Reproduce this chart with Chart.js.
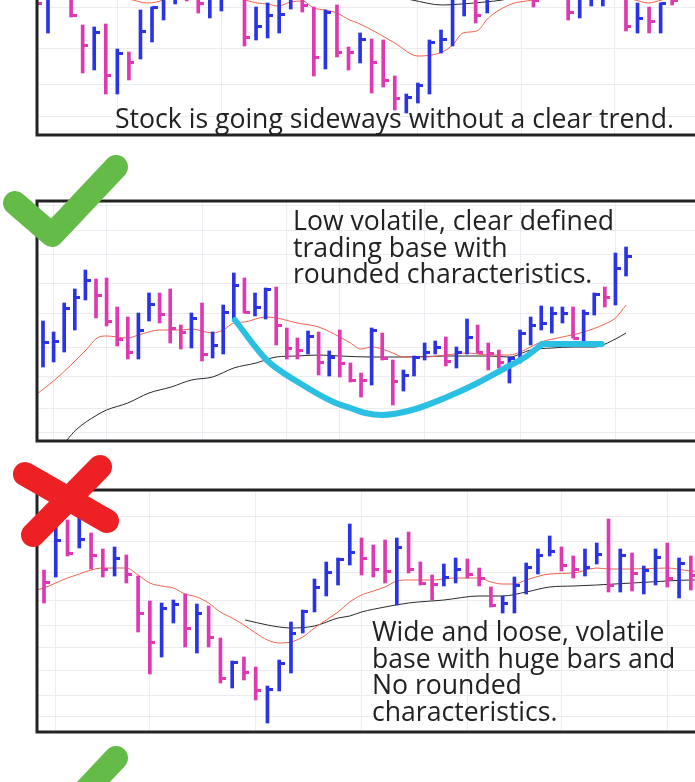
<!DOCTYPE html>
<html><head><meta charset="utf-8">
<script src="https://cdn.jsdelivr.net/npm/chart.js@4.4.1/dist/chart.umd.min.js"></script>
<style>
html,body{margin:0;padding:0;background:#fff;width:695px;height:782px;overflow:hidden;position:relative;}
canvas{position:absolute;left:0;}
.note{position:absolute;font-family:'Open Sans',sans-serif;font-size:26.6px;line-height:26.6px;color:#222;white-space:nowrap;z-index:3;}
svg{position:absolute;left:0;top:0;z-index:4;}
</style></head><body>
<canvas id="c1" width="720" height="260" style="top:-115px"></canvas>
<canvas id="c2" width="720" height="260" style="top:191px"></canvas>
<canvas id="c3" width="720" height="262" style="top:480px"></canvas>
<div class="note" style="left:115px;top:105.2px">Stock is going sideways without a clear trend.</div>
<div class="note" style="left:293px;top:207.2px">Low volatile, clear defined<br>trading base with<br>rounded characteristics.</div>
<div class="note" style="left:372px;top:618px">Wide and loose, volatile<br>base with huge bars and<br>No rounded<br>characteristics.</div>
<svg width="695" height="782">
<g fill="none" stroke-linecap="round" stroke-linejoin="round" stroke-width="24">
<polyline points="15,203 52,235 116,167" stroke="#65bb47"/>
<line x1="25" y1="474" x2="107" y2="521" stroke="#ed2024"/>
<line x1="100" y1="467" x2="33" y2="535" stroke="#ed2024"/>
<polyline points="15,794 52,826 116,758" stroke="#65bb47"/>
</g></svg>
<script>
const UP='#2a33e6', DOWN='#df38b1', RED='#f0604c', BLACK='#2a2a2a', CYAN='#2bbfe3', GRID='#ebebf1';

// ---- Panel 1: sideways ----
const p1Dir=['d','u','d','d','d','u','d','u','d','u','u','u','u','d','d','u','u','d','d','u','u','u','u','d','d','u','d','d','u','d','d','d','u','u','u','u','u','u','d','u','d','u','u','d','u','d','d','u','u','u','d','d','u','d','u','d','u','d'];
const p1High=[165,160,175,160,110,108,111,86,83,125,128,150,160,155,150,155,165,170,140,128,132,137,155,155,128,125,130,88,102,96,95,59,41,52,95,105,145,155,145,155,175,175,180,155,175,175,155,160,165,160,165,140,132,128,132,155,165,165];
const p1Low=[131,102,140,118,62,65,41,41,55,76,93,115,131,134,122,117,124,140,89,95,97,102,126,123,59,66,78,65,72,42,48,25,22,32,41,82,89,119,112,122,140,138,140,128,140,140,115,117,129,129,140,104,102,102,102,130,140,140];
const p1Close=[132,150,155,120,90,103,60,82,73,104,128,145,155,140,132,150,160,145,98,109,120,121,150,130,78,123,83,83,96,73,55,37,38,50,93,96,140,150,120,150,155,165,175,135,165,145,123,155,160,155,145,109,117,114,132,135,155,145];
const p1RedX=[0,3,6,8.35,9.56,10.4,10.95,13,16,18.04,19.1,20,20.9,22,23,24,25,26,27.1,27.8,29.5,31,33,35.1,36,36.9,38.1,39.1,41.1,42.9,45,48,51.8,52.9,54.1,56,58];
const p1RedY=[150,146,140,135,132,133,135,142,142,135,132,131,129,133,134,127,125,122,115,112,102,92,79,83,90,102,104,117,131,135,142,142,135,132,135,140,142];
const p1BlkX=[28,32.5,35.1,36.8,38.8,40.3,44];
const p1BlkY=[145,135,130,131,133,135,145];
const p1GridX=[7,16,33,42,50];
const p1GridY=[128,87,51,19];

// ---- Panel 2: rounded base ----
const p2Dir=['u','u','u','u','u','d','d','d','d','u','u','d','d','d','u','d','u','u','u','d','u','u','d','d','d','u','d','u','d','d','d','u','d','d','u','u','u','u','d','u','u','d','d','d','u','u','u','u','u','u','d','u','u','d','u','u'];
const p2High=[120,109,138,152,171,162,163,134,124,128,148,148,152,116,128,138,109,136,168,163,148,153,154,113,103,110,109,90,111,78,68,113,108,81,71,85,98,100,104,94,122,116,98,91,84,111,124,135,134,134,134,131,148,154,188,194];
const p2Low=[74,79,89,111,141,123,115,95,82,82,120,118,98,92,93,80,83,87,120,128,125,122,96,82,82,87,66,65,64,59,44,56,81,36,50,65,81,87,75,73,87,88,71,73,58,78,96,111,108,118,103,100,126,134,136,165];
const p2Close=[99,100,133,144,161,146,120,102,89,111,137,127,113,109,123,87,96,129,156,129,134,152,116,93,91,105,79,84,78,61,61,111,83,60,66,84,89,94,80,89,104,89,88,79,83,108,116,118,128,128,103,128,147,144,173,185];
const p2RedX=[-0.7,1.1,4.06,5.1,6,8,9,11,13,14,16,17,18,19,21,22,24,26,28,29,30,31,32,33,34,36,38,40,42,44,45,47,49,51,53,54,55];
const p2RedY=[46,61,91,103,105,103,106,111,111,112,108,111,118,119,124,123,118,114,104,98,92,94,92,88,84,84,86,88,86,86,89,99,104,109,117,123,136];
const p2BlkX=[1,2.26,3.1,5.1,6,8,10,12.1,14,16,18,20.1,22,24,26,28,31,34,38,42,44,46,48,50,52,54,55];
const p2BlkY=[-15,1,11,26,31,38,48,54,61,64,73,78,84,85,86,85,84,84,85,85,84,91,93,94,94,102,108];
const p2CupX=[18.1,21.1,24.2,27.4,29,30.4,32,34.8,37.9,41,43.6,45.5,47.1];
const p2CupY=[121,81,58,39,33,28,26,31,43,58,73,84,97];
const p2HandleX=[47.1,52.7];
const p2HandleY=[97,97];
const p2GridX=[1,6,15,23,28,36,45,54];
const p2GridY=[236,211,186,158,128,94,65,33,9];

// ---- Panel 3: wide and loose ----
const p3Dir=['d','d','u','d','u','d','d','u','d','d','d','u','u','d','u','d','d','u','d','d','u','u','u','u','u','u','u','u','d','d','d','u','d','d','d','u','u','d','d','d','u','u','u','u','u','d','d','u','u','d','u','d','u','u','d','u','d'];
const p3High=[167,162,215,212,217,199,183,185,177,156,131,129,132,138,128,126,94,71,75,65,46,72,110,122,153,170,174,208,194,187,192,194,200,170,157,168,174,173,164,145,136,155,169,183,196,185,176,183,189,213,183,179,166,183,189,174,176];
const p3Low=[132,129,155,176,184,163,155,156,149,100,58,75,109,85,79,85,49,44,52,32,9,41,59,99,120,136,147,167,157,155,149,127,159,147,132,146,149,154,146,125,119,119,138,158,176,161,154,156,168,140,140,141,138,147,145,134,142];
const p3Close=[154,150,192,179,193,177,163,174,158,119,90,124,128,104,119,95,54,70,60,42,43,69,99,121,145,160,173,180,174,163,161,185,163,149,148,155,163,158,154,127,129,147,165,177,181,167,163,165,178,147,177,159,162,175,154,169,157];
const p3RedX=[0.3,1,2,3,4,5,6,7,8,9,10,11,12,13,14,15,16,17,18,19,20,21,22,23,24,25,26,27,28,29,30,31,32,34,36,38,39,40,41,42,44,46,48,49,51,54,56,57.5];
const p3RedY=[142,144,149,154,158,162,164,164,164,157,149,146,144,138,135,129,120,114,107,99,92,89,90,95,104,112,120,130,137,141,145,151,152,152,154,154,150,148,148,152,158,159,164,163,163,164,161,160];
const p3BlkX=[18.1,20,21,22,24,26,27,28,30,32,35,38,40,42,44,46,48,51,54,56,57.5];
const p3BlkY=[112,107,105,104,106,114,116,120,125,129,132,136,136,140,145,146,147,149,151,152,152];
const p3GridX=[2,10,19,28,37,45,54];
const p3GridY=[215,190,160,132,107,85,62,37,16];

function tickCanvas(color){
  const c=document.createElement('canvas'); c.width=11; c.height=3;
  const g=c.getContext('2d'); g.fillStyle=color; g.fillRect(5.5,0,5.5,3); return c;
}
const tickUp=tickCanvas(UP), tickDown=tickCanvas(DOWN);
const pts=(xs,ys)=>xs.map((x,i)=>({x:x,y:ys[i]}));

const frame={id:'frame',afterDraw(c){const a=c.chartArea,g=c.ctx;g.save();g.strokeStyle='#232323';g.lineWidth=3;g.strokeRect(a.left,a.top,a.right-a.left,a.bottom-a.top);g.restore();}};

function panel(id,p){
  const idx=p.high.map((_,i)=>i);
  const ds=[];
  if(p.cupX){
    ds.push({type:'line',data:pts(p.cupX,p.cupY),borderColor:CYAN,borderWidth:6,pointRadius:0,cubicInterpolationMode:'monotone',borderCapStyle:'round',order:0});
    ds.push({type:'line',data:pts(p.handleX,p.handleY),borderColor:CYAN,borderWidth:6,pointRadius:0,borderCapStyle:'round',order:0});
  }
  ds.push({type:'line',data:idx.map(i=>({x:i,y:p.close[i]})),showLine:false,pointStyle:p.dir.map(d=>d==='u'?tickUp:tickDown),pointRadius:4,pointBorderWidth:0,order:1});
  ds.push({type:'bar',data:idx.map(i=>({x:i,y:[p.low[i],p.high[i]]})),backgroundColor:p.dir.map(d=>d==='u'?UP:DOWN),barThickness:3,borderWidth:0,clip:0,order:2});
  ds.push({type:'line',data:pts(p.redX,p.redY),borderColor:RED,borderWidth:1,pointRadius:0,cubicInterpolationMode:'monotone',order:3});
  ds.push({type:'line',data:pts(p.blkX,p.blkY),borderColor:BLACK,borderWidth:1,pointRadius:0,cubicInterpolationMode:'monotone',order:4});
  const axis=(min,max,grid)=>({type:'linear',min:min,max:max,offset:false,
    grid:{color:GRID,lineWidth:1,drawTicks:false,offset:false},border:{display:false},ticks:{display:false},
    afterBuildTicks:s=>{s.ticks=grid.map(v=>({value:v}));}});
  new Chart(document.getElementById(id),{type:'bar',data:{datasets:ds},options:{
    responsive:false,animation:false,devicePixelRatio:1,events:[],
    layout:{padding:{left:37,right:10,top:10,bottom:10}},
    plugins:{legend:{display:false},tooltip:{enabled:false}},
    scales:{x:axis(p.xMin,p.xMax,p.gridX),y:axis(0,p.yMax,p.gridY)}
  },plugins:[frame]});
}

panel('c1',{dir:p1Dir,high:p1High,low:p1Low,close:p1Close,redX:p1RedX,redY:p1RedY,blkX:p1BlkX,blkY:p1BlkY,gridX:p1GridX,gridY:p1GridY,xMin:0.05,xMax:58.27,yMax:240});
panel('c2',{dir:p2Dir,high:p2High,low:p2Low,close:p2Close,redX:p2RedX,redY:p2RedY,blkX:p2BlkX,blkY:p2BlkY,cupX:p2CupX,cupY:p2CupY,handleX:p2HandleX,handleY:p2HandleY,gridX:p2GridX,gridY:p2GridY,xMin:-0.566,xMax:62.92,yMax:240});
panel('c3',{dir:p3Dir,high:p3High,low:p3Low,close:p3Close,redX:p3RedX,redY:p3RedY,blkX:p3BlkX,blkY:p3BlkY,gridX:p3GridX,gridY:p3GridY,xMin:0.404,xMax:57.63,yMax:242});
</script>
</body></html>
